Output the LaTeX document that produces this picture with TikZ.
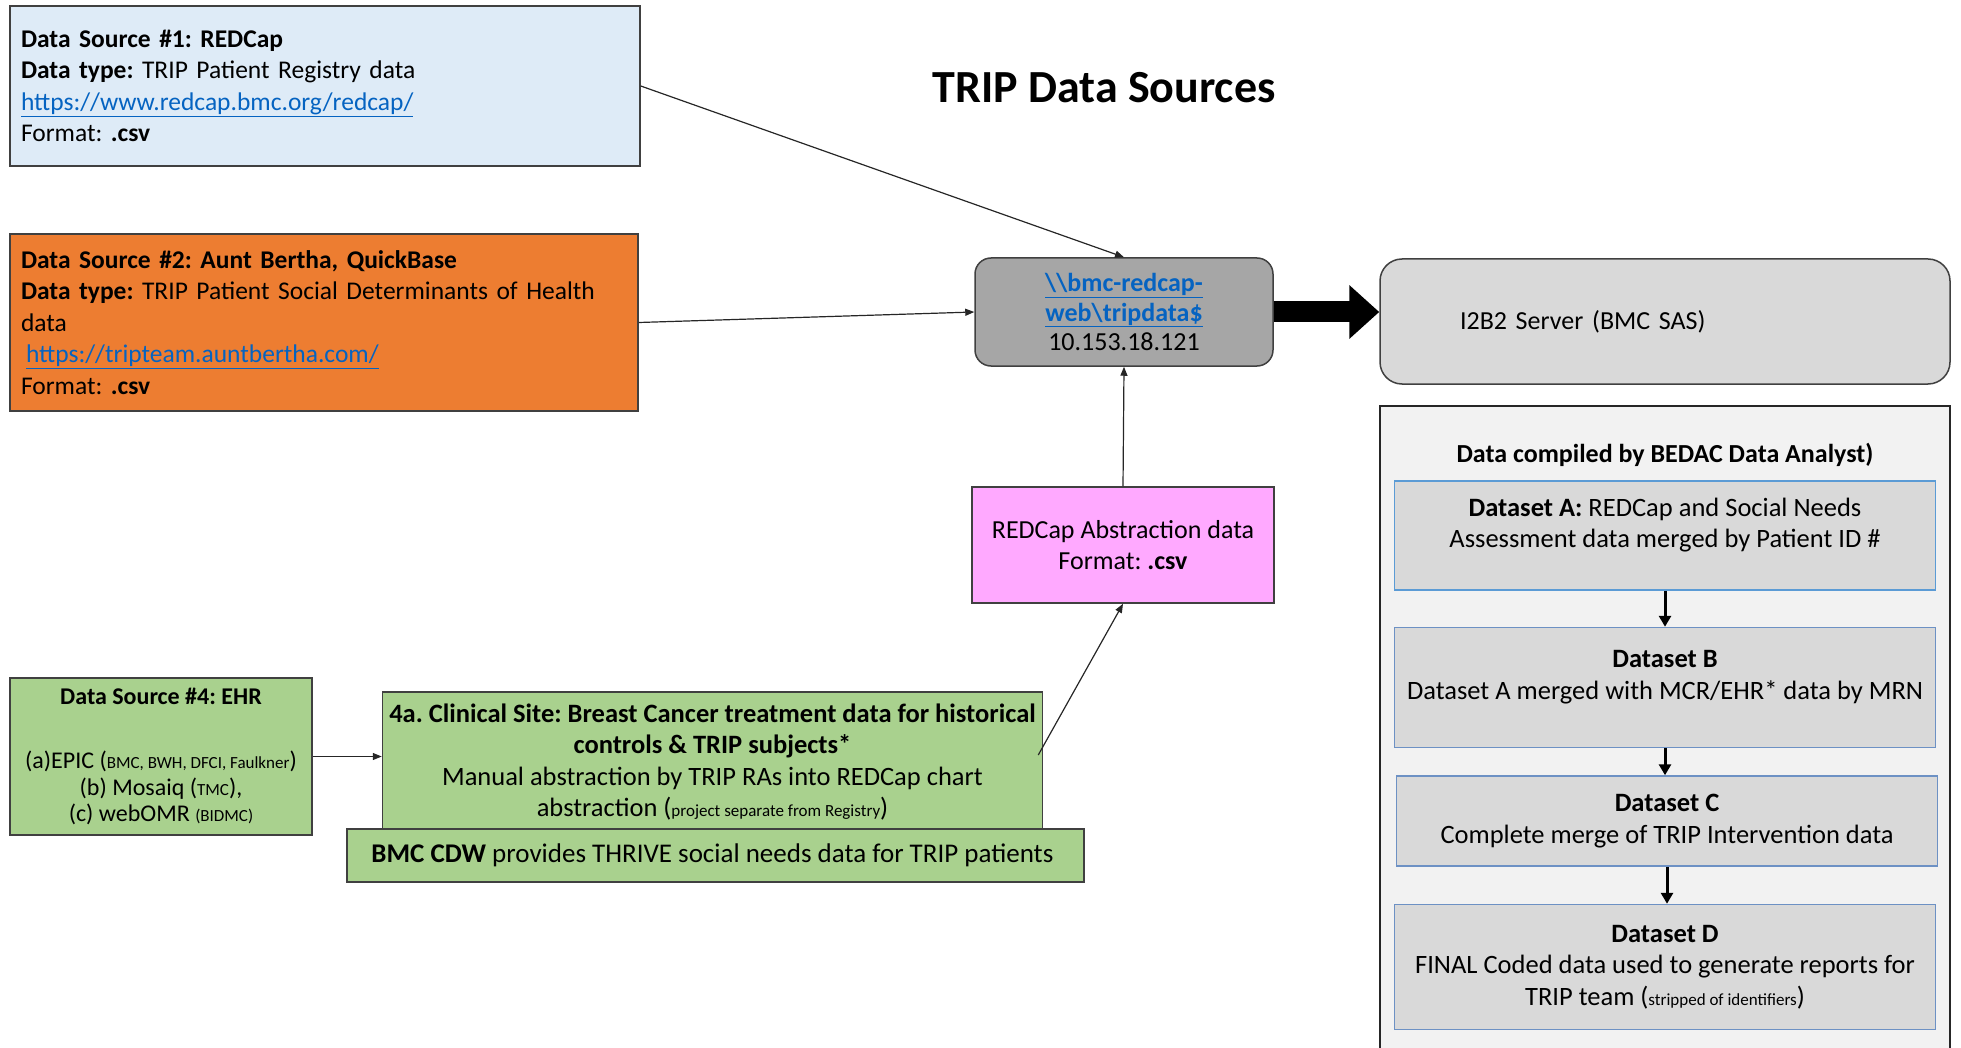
\documentclass[tikz,border=0pt]{standalone}
\usepackage{fontspec}
\setmainfont{Carlito}
\usepackage{tikz}
\usetikzlibrary{arrows.meta, positioning}
\usepackage{xcolor}
\definecolor{srcBlue}{RGB}{222, 235, 247}
\definecolor{srcOrange}{RGB}{237, 125, 49}
\definecolor{serverGray}{RGB}{166, 166, 166}
\definecolor{iTwoGray}{RGB}{217, 217, 217}
\definecolor{abstractPink}{RGB}{255, 169, 255}
\definecolor{ehrGreen}{RGB}{169, 209, 142}
\definecolor{panelGray}{RGB}{242, 242, 242}
\definecolor{dsGray}{RGB}{217, 217, 217}
\definecolor{dsEdge}{RGB}{91, 155, 213}
\definecolor{dsEdgeDark}{RGB}{109, 145, 196}
\definecolor{linkBlue}{RGB}{5, 99, 193}
\definecolor{edgeDark}{RGB}{64, 64, 64}
\newcommand{\weblink}[1]{\textcolor{linkBlue}{\underline{#1}}}
\newcommand{\smalltxt}[1]{{\fontsize{17}{17}\selectfont #1}}
\frenchspacing

\begin{document}
\begin{tikzpicture}[
    x=1pt, y=-1pt,
    % Source boxes (left column)
    srcbox/.style={
        rectangle,
        draw=edgeDark,
        fill=#1,
        line width=1.5pt,
        align=left,
        inner xsep=11pt,
        font=\fontsize{25.5}{31.5}\selectfont
    },
    % Green EHR boxes
    ehrbox/.style={
        rectangle,
        draw=edgeDark,
        fill=ehrGreen,
        line width=1.5pt,
        align=center,
        font=\fontsize{26.5}{31.5}\selectfont
    },
    % Rounded server boxes
    serverbox/.style={
        rectangle,
        rounded corners=#1,
        draw=edgeDark,
        line width=1.5pt,
        align=center,
        font=\fontsize{26}{29.5}\selectfont
    },
    % Dataset boxes in the BEDAC panel
    dataset/.style={
        rectangle,
        draw=#1,
        fill=dsGray,
        line width=1.5pt,
        minimum width=541pt,
        align=center,
        font=\fontsize{26.5}{31.5}\selectfont
    },
    dataset/.default=dsEdgeDark,
    % Arrow styles
    arrow/.style={
        -{Triangle[length=9pt, width=7pt]},
        line width=1.2pt,
        draw=black!85
    },
    dsarrow/.style={
        -{Triangle[length=11pt, width=12pt]},
        line width=3pt,
        draw=black
    },
    bigarrow/.style={
        -{Triangle[length=30pt, width=52pt]},
        line width=21pt,
        draw=black
    }
]
\useasboundingbox (0,0) rectangle (1961,1048);

% ============================================
% TITLE
% ============================================
\node[font=\fontsize{46}{50}\selectfont\bfseries] (title) at (1104, 88) {TRIP Data Sources};

% ============================================
% DATA SOURCES (left column)
% ============================================
% Data Source 1
\node[srcbox=srcBlue, text width=608pt, minimum height=160pt] (redcap) at (325, 86) {
    \textbf{Data Source \#1: REDCap}\\
    \textbf{Data type:} TRIP Patient Registry data\\
    \weblink{https://www.redcap.bmc.org/redcap/}\\
    Format: \textbf{.csv}
};

% Data Source 2
\node[srcbox=srcOrange, text width=606pt, minimum height=177pt] (auntbertha) at (324, 322.5) {
    \textbf{Data Source \#2: Aunt Bertha, QuickBase}\\
    \textbf{Data type:} TRIP Patient Social Determinants of Health\\
    data\\
    \hspace*{5pt}\weblink{https://tripteam.auntbertha.com/}\\
    Format: \textbf{.csv}
};

% Data Source 4
\node[ehrbox, minimum width=302pt, minimum height=157pt,
      font=\fontsize{24}{26.5}\selectfont] (ehr) at (161, 756.5) {
    \textbf{Data Source \#4: EHR}\\[38pt]
    (a)EPIC (\smalltxt{BMC, BWH, DFCI, Faulkner})\\
    (b) Mosaiq (\smalltxt{TMC}),\\
    (c) webOMR \smalltxt{(BIDMC)}
};

% Clinical site abstraction
\node[ehrbox, minimum width=660pt, minimum height=140pt] (clinical) at (712.5, 762) {
    \textbf{4a. Clinical Site: Breast Cancer treatment data for historical}\\
    \textbf{controls \& TRIP subjects*}\\
    Manual abstraction by TRIP RAs into REDCap chart\\
    abstraction (\smalltxt{project separate from Registry})
};

% BMC CDW
\node[ehrbox, minimum width=737pt, minimum height=53pt, line width=2pt,
      font=\fontsize{27}{31.5}\selectfont,
      below=-5pt of clinical, xshift=3pt] (cdw) {
    \textbf{BMC CDW} provides THRIVE social needs data for TRIP patients
};

% ============================================
% SHARE, ABSTRACTION AND SERVER
% ============================================
% Network share
\node[serverbox=16pt, fill=serverGray, minimum width=298pt, minimum height=108pt] (share) at (1124, 312) {
    \textbf{\weblink{\textbackslash\textbackslash bmc-redcap-}}\\
    \textbf{\weblink{web\textbackslash tripdata\$}}\\
    10.153.18.121
};

% REDCap abstraction
\node[srcbox=abstractPink, align=center, minimum width=302pt, minimum height=116pt,
      font=\fontsize{26}{31.5}\selectfont] (abstraction) at (1123, 545) {
    REDCap Abstraction data\\
    Format: \textbf{.csv}
};

% I2B2 server
\node[serverbox=22pt, fill=iTwoGray, minimum width=570pt, minimum height=125pt,
      font=\fontsize{26}{29.5}\selectfont,
      text width=570pt, align=left, inner xsep=0pt] (itwob) at (1665, 321.5) {
    \hspace*{80pt}I2B2 Server (BMC SAS)
};

% ============================================
% BEDAC PANEL
% ============================================
\node[fill=panelGray, minimum width=570pt, minimum height=642pt, inner sep=0pt] (panel) at (1665, 727) {};
\draw[line width=1.5pt, draw=black!85] (panel.south west) -- (panel.north west) -- (panel.north east) -- (panel.south east);

\node[font=\fontsize{26}{28}\selectfont\bfseries] (compiled) at (1665, 455) {Data compiled by BEDAC Data Analyst)};

\node[dataset=dsEdge, minimum height=109pt] (dsA) at (1665, 535.5) {
    \textbf{Dataset A:} REDCap and Social Needs\\
    Assessment data merged by Patient ID \#\\[-6pt]\mbox{}
};
\node[dataset, minimum height=120pt, below=36pt of dsA] (dsB) {
    \textbf{Dataset B}\\
    Dataset A merged with MCR/EHR* data by MRN\\[-6pt]\mbox{}
};
\node[dataset, minimum height=90pt, below=27pt of dsB, xshift=2pt] (dsC) {
    \textbf{Dataset C}\\
    Complete merge of TRIP Intervention data
};
\node[dataset, minimum height=125pt, below=37pt of dsC, xshift=-2pt] (dsD) {
    \textbf{Dataset D}\\
    FINAL Coded data used to generate reports for\\
    TRIP team (\smalltxt{stripped of identifiers})
};

% ============================================
% ARROWS
% ============================================
\draw[arrow] (redcap.east) -- (share.north);
\draw[arrow] (auntbertha.east) -- (share.west);
\draw[arrow] (abstraction.north) -- (share.south);
\draw[arrow] ([xshift=-5pt, yshift=7pt]clinical.east) -- (abstraction.south);
\draw[arrow] (ehr.east) -- (ehr.east -| clinical.west);
\draw[bigarrow] (share.east) -- (share.east -| itwob.west);

\draw[dsarrow] (dsA.south) -- (dsB.north);
\draw[dsarrow] (dsB.south) -- (dsB.south |- dsC.north);
\draw[dsarrow] (dsC.south) -- (dsC.south |- dsD.north);

\end{tikzpicture}
\end{document}
